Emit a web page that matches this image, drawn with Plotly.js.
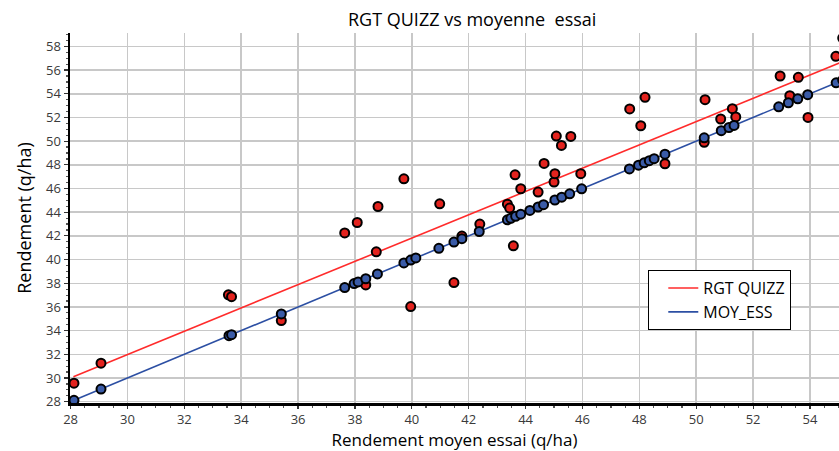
<!DOCTYPE html>
<html>
<head>
<meta charset="utf-8">
<script src="https://cdn.plot.ly/plotly-3.0.1.min.js"></script>
<style>html,body{margin:0;padding:0;background:#fff;}#chart{width:839px;height:451px;}</style>
</head>
<body>
<div id="chart"></div>
<script>
// MOY_ESS points (x = y = mean trial yield)
const moyX = [28.12, 29.07, 33.57, 33.66, 35.41, 37.64, 37.97, 38.11, 38.38, 38.79,
  39.72, 39.96, 40.14, 40.95, 41.48, 41.76, 42.37, 43.36, 43.48, 43.65, 43.83, 44.15,
  44.44, 44.63, 45.03, 45.27, 45.55, 45.97, 47.65, 47.97, 48.17, 48.35, 48.52, 48.9,
  50.28, 50.88, 51.15, 51.33, 52.9, 53.24, 53.57, 53.92, 54.92, 55.15];

// RGT QUIZZ points
const rgtX = [28.12, 29.07, 33.55, 33.66, 35.41, 37.64, 38.08, 38.38, 38.75, 38.81,
  39.72, 39.96, 40.98, 41.48, 41.76, 42.39, 43.36, 43.44, 43.57, 43.63, 43.83, 44.44,
  44.65, 45.0, 45.03, 45.08, 45.26, 45.59, 45.94, 47.66, 48.05, 48.2, 48.9, 50.31,
  50.28, 50.86, 51.27, 51.39, 52.95, 53.29, 53.59, 53.93, 54.91, 55.15];
const rgtY = [29.56, 31.25, 37.02, 36.87, 34.85, 42.25, 43.13, 37.86, 40.65, 44.48,
  46.82, 36.03, 44.71, 38.06, 41.98, 43.0, 44.68, 44.35, 41.16, 47.16, 45.98, 45.7,
  48.12, 46.55, 47.25, 50.43, 49.64, 50.4, 47.25, 52.72, 51.3, 53.7, 48.09, 53.5,
  49.9, 51.87, 52.74, 52.04, 55.5, 53.84, 55.39, 52.0, 57.16, 58.7];

// fitted lines (end points)
const fitX = [28.1, 55.2];
const fitRgt = [30.11, 56.77];
const fitMoy = [28.1, 55.2];

const xTicks = [28, 30, 32, 34, 36, 38, 40, 42, 44, 46, 48, 50, 52, 54];
const yTicks = [28, 30, 32, 34, 36, 38, 40, 42, 44, 46, 48, 50, 52, 54, 56, 58];

const redFill = '#e3231e';
const blueFill = '#3a5ba7';

const traces = [
  {x: fitX, y: fitRgt, mode: 'lines', name: 'RGT QUIZZ', line: {color: '#ff2b2b', width: 1.6}, hoverinfo: 'skip'},
  {x: fitX, y: fitMoy, mode: 'lines', name: 'MOY_ESS', line: {color: '#2c4fa3', width: 1.6}, hoverinfo: 'skip'},
  {x: rgtX, y: rgtY, mode: 'markers', name: 'RGT QUIZZ pts', showlegend: false, cliponaxis: true,
   marker: {color: redFill, size: 9, line: {color: '#000', width: 2}}},
  {x: moyX, y: moyX, mode: 'markers', name: 'MOY_ESS pts', showlegend: false, cliponaxis: true,
   marker: {color: blueFill, size: 9, line: {color: '#000', width: 2}}}
];

const axisFont = {family: 'Open Sans, sans-serif', size: 13, color: '#3a3a3a'};

const layout = {
  width: 839, height: 451,
  margin: {l: 70, r: 0, t: 33, b: 48},
  paper_bgcolor: '#fff', plot_bgcolor: '#fff',
  font: {family: 'Open Sans, sans-serif', color: '#000'},
  title: {text: 'RGT QUIZZ vs moyenne\u00a0 essai', font: {size: 18, color: '#000'},
          x: 0.523, xref: 'paper', xanchor: 'center', y: 0.957, yref: 'container', yanchor: 'middle'},
  xaxis: {
    range: [27.98, 55.02], tickvals: xTicks, ticktext: xTicks.map(String),
    showgrid: true, gridcolor: '#c8c8c8', gridwidth: 1.5, zeroline: false,
    showline: true, linecolor: '#000', linewidth: 2.5,
    ticks: 'outside', ticklen: 3, tickwidth: 1.2, tickcolor: '#333',
    minor: {dtick: 0.5, tick0: 28, ticks: 'outside', ticklen: 2, tickcolor: '#555', showgrid: false},
    tickfont: axisFont,
    title: {text: 'Rendement moyen essai (q/ha)', font: {size: 17, color: '#000'}, standoff: 14}
  },
  yaxis: {
    range: [27.89, 59.13], tickvals: yTicks, ticktext: yTicks.map(String),
    showgrid: true, gridcolor: '#c8c8c8', gridwidth: 1.5, zeroline: false,
    showline: true, linecolor: '#000', linewidth: 2.5,
    ticks: 'outside', ticklen: 4, tickwidth: 1.2, tickcolor: '#333',
    minor: {dtick: 0.5, tick0: 28, ticks: 'outside', ticklen: 2, tickcolor: '#555', showgrid: false},
    tickfont: axisFont,
    title: {text: 'Rendement (q/ha)', font: {size: 18, color: '#000'}, standoff: 10}
  },
  legend: {
    x: 0.752, y: 0.359, xanchor: 'left', yanchor: 'top',
    bgcolor: '#fff', bordercolor: '#000', borderwidth: 1,
    font: {size: 16, color: '#000'}, indentation: 14, tracegroupgap: 0
  },
  showlegend: true
};

Plotly.newPlot('chart', traces, layout, {displayModeBar: false, staticPlot: true});
</script>
</body>
</html>
